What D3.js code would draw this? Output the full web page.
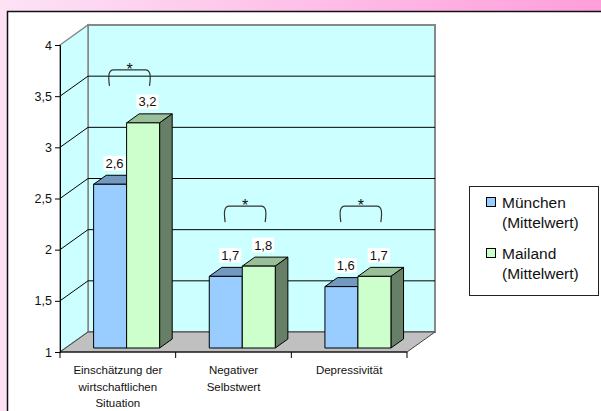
<!DOCTYPE html>
<html>
<head>
<meta charset="utf-8">
<script src="https://cdn.jsdelivr.net/npm/d3@7/dist/d3.min.js"></script>
<style>
  body { margin: 0; }
  svg { display: block; font-family: "Liberation Sans", Arial, sans-serif; }
</style>
</head>
<body>
<script>
// data
var categories = [
  ["Einschätzung der", "wirtschaftlichen", "Situation"],
  ["Negativer", "Selbstwert"],
  ["Depressivität"]
];
var seriesNames = [["München", "(Mittelwert)"], ["Mailand", "(Mittelwert)"]];
var muenchen = [2.6, 1.7, 1.6];
var mailand = [3.2, 1.8, 1.7];
var significant = [true, true, true];
var bracketLevel = [3.6, 2.27, 2.27];
var yTicks = [1, 1.5, 2, 2.5, 3, 3.5, 4];

var W = 601, H = 411;
var depth = [28, -20];           // offset front plane -> back wall
var f0 = 0.2, f1 = 0.65;         // bar depth inside the floor
var fronts = ["#99ccff", "#ccffcc"];
var tops = ["#7399bf", "#99bf99"];
var sides = ["#4d6680", "#667f66"];

var svg = d3.select("body").append("svg").attr("width", W).attr("height", H);

var defs = svg.append("defs");
var grad = defs.append("linearGradient").attr("id", "bg").attr("x1", 0).attr("x2", 1).attr("y1", 0).attr("y2", 0);
grad.append("stop").attr("offset", 0).attr("stop-color", "#fde2f6");
grad.append("stop").attr("offset", 1).attr("stop-color", "#ff9edb");
svg.append("rect").attr("width", W).attr("height", H).attr("fill", "url(#bg)");
svg.append("rect").attr("x", 7.5).attr("y", 11.5).attr("width", W).attr("height", H)
  .attr("fill", "#fff").attr("stroke", "#111").attr("stroke-width", 1.5);

var x = d3.scaleBand().domain(d3.range(categories.length)).range([60, 407]);
var x1 = d3.scaleBand().domain([0, 1]).range([28, 94]);
var y = d3.scaleLinear().domain([1, 4]).range([352, 45]);
var fmt = d3.formatLocale({decimal: ",", thousands: ".", grouping: [3], currency: ["", "€"]}).format(".1~f");

function p(px, py, f) { return [px + f * depth[0], py + f * depth[1]]; }
function poly(pts) { return "M" + pts.map(function(d) { return d.join(","); }).join("L") + "Z"; }

var x0 = x.range()[0], xEnd = x.range()[1], yb = y(1), yt = y(4);
var g = svg.append("g");

// back wall, left wall, floor
g.append("path").attr("d", poly([p(x0, yt, 1), p(xEnd, yt, 1), p(xEnd, yb, 1), p(x0, yb, 1)]))
  .attr("fill", "#ccffff").attr("stroke", "#888").attr("stroke-width", 2);
g.append("path").attr("d", poly([[x0, yt], p(x0, yt, 1), p(x0, yb, 1), [x0, yb]]))
  .attr("fill", "#ccffff").attr("stroke", "#888").attr("stroke-width", 1.5);
g.append("path").attr("d", poly([[x0, yb], p(x0, yb, 1), p(xEnd, yb, 1), [xEnd, yb]]))
  .attr("fill", "#c0c0c0").attr("stroke", "#444").attr("stroke-width", 1);

// gridlines
yTicks.filter(function(v) { return v > 1 && v < 4; }).forEach(function(v) {
  var a = [x0, y(v)], b = p(x0, y(v), 1), c = p(xEnd, y(v), 1);
  g.append("path").attr("d", "M" + a + "L" + b + "L" + c).attr("fill", "none").attr("stroke", "#000").attr("stroke-width", 1);
});

// bars
var series = [muenchen, mailand];
categories.forEach(function(c, i) {
  series.forEach(function(vals, s) {
    var bx = x(i) + x1(s), bw = x1.bandwidth(), top = y(vals[i]);
    var bar = g.append("g");
    bar.append("path").attr("d", poly([p(bx, top, f0), p(bx + bw, top, f0), p(bx + bw, top, f1), p(bx, top, f1)]))
      .attr("fill", tops[s]).attr("stroke", "#000").attr("stroke-width", 1);
    bar.append("path").attr("d", poly([p(bx + bw, top, f0), p(bx + bw, top, f1), p(bx + bw, yb, f1), p(bx + bw, yb, f0)]))
      .attr("fill", sides[s]).attr("stroke", "#000").attr("stroke-width", 1);
    bar.append("path").attr("d", poly([p(bx, top, f0), p(bx + bw, top, f0), p(bx + bw, yb, f0), p(bx, yb, f0)]))
      .attr("fill", fronts[s]).attr("stroke", "#000").attr("stroke-width", 1);
  });
});

// axes
var yAxis = d3.axisLeft(y).tickValues(yTicks).tickSize(5).tickPadding(3).tickFormat(fmt);
var ya = svg.append("g").attr("transform", "translate(" + x0 + ",0)").call(yAxis);
ya.select(".domain").attr("stroke", "#000");
ya.selectAll("text").attr("font-size", 12.5).attr("font-family", "Liberation Sans, Arial").attr("fill", "#111");

var xTickPos = x.domain().map(function(d) { return x(d); }).concat([xEnd]);
svg.append("line").attr("x1", x0).attr("x2", xEnd).attr("y1", yb).attr("y2", yb).attr("stroke", "#000");
svg.selectAll(".xt").data(xTickPos).enter().append("line")
  .attr("x1", function(d) { return d; }).attr("x2", function(d) { return d; })
  .attr("y1", yb).attr("y2", yb + 6).attr("stroke", "#000");

categories.forEach(function(lines, i) {
  var t = svg.append("text").attr("x", x(i) + x.bandwidth() / 2).attr("text-anchor", "middle")
    .attr("font-size", 11.5).attr("fill", "#111");
  lines.forEach(function(l, k) {
    t.append("tspan").attr("x", x(i) + x.bandwidth() / 2).attr("y", 374 + k * 16.5).text(l);
  });
});

// value labels
categories.forEach(function(c, i) {
  series.forEach(function(vals, s) {
    var cx = x(i) + x1(s) + x1.bandwidth() / 2 + 10, cy = y(vals[i]) - 4 - 21;
    var lab = svg.append("g");
    var t = lab.append("text").attr("x", cx).attr("y", cy).attr("dy", "0.35em").attr("text-anchor", "middle")
      .attr("font-size", 13).attr("fill", "#111").text(fmt(vals[i]));
    var bb = t.node().getBBox();
    lab.insert("rect", "text").attr("x", bb.x - 2).attr("y", bb.y).attr("width", bb.width + 4).attr("height", bb.height)
      .attr("fill", "#fff");
  });
});

// significance brackets
categories.forEach(function(c, i) {
  if (!significant[i]) return;
  var xa = x(i) + x1(0) + x1.bandwidth() / 2 + 5, xb = x(i) + x1(1) + x1.bandwidth() / 2 + 12;
  var yl = y(bracketLevel[i]), yh = yl - 16;
  svg.append("path")
    .attr("d", "M" + xa + "," + yl + "C" + (xa - 1.5) + "," + (yh + 6) + " " + (xa - 1) + "," + yh + " " + (xa + 4) + "," + yh +
      "L" + (xb - 4) + "," + yh + "C" + (xb + 1) + "," + yh + " " + (xb + 1.5) + "," + (yh + 6) + " " + xb + "," + yl)
    .attr("fill", "none").attr("stroke", "#333").attr("stroke-width", 1.2);
  svg.append("text").attr("x", (xa + xb) / 2).attr("y", yh + 5).attr("text-anchor", "middle")
    .attr("font-size", 16).attr("fill", "#111").text("*");
});

// legend
var lg = svg.append("g");
lg.append("rect").attr("x", 469.5).attr("y", 186.5).attr("width", 129).attr("height", 109)
  .attr("fill", "#fff").attr("stroke", "#222").attr("stroke-width", 1);
seriesNames.forEach(function(n, s) {
  var top = 197 + s * 51;
  lg.append("rect").attr("x", 486.5).attr("y", top + 0.5).attr("width", 9).attr("height", 9)
    .attr("fill", fronts[s]).attr("stroke", "#000");
  n.forEach(function(l, k) {
    lg.append("text").attr("x", 502).attr("y", top + 11 + k * 20).attr("font-size", 15.5).attr("fill", "#111").text(l);
  });
});
</script>
</body>
</html>
